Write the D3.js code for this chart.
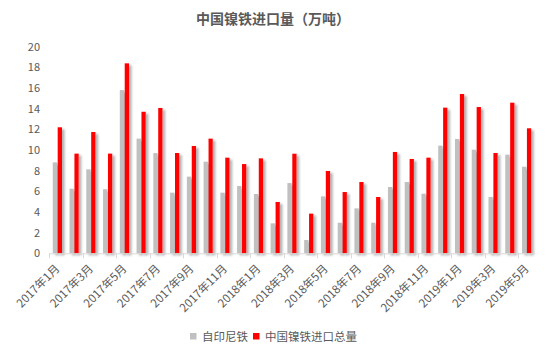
<!DOCTYPE html>
<html><head><meta charset="utf-8">
<script src="https://cdn.jsdelivr.net/npm/d3@7"></script>
<style>body{margin:0;background:#fff;} text{font-family:"Noto Sans CJK SC","Microsoft YaHei",sans-serif;}</style>
</head><body>
<svg id="chart" width="550" height="356"></svg>
<script>
const categories = ["2017年1月","2017年2月","2017年3月","2017年4月","2017年5月","2017年6月","2017年7月","2017年8月","2017年9月","2017年10月","2017年11月","2017年12月",
"2018年1月","2018年2月","2018年3月","2018年4月","2018年5月","2018年6月","2018年7月","2018年8月","2018年9月","2018年10月","2018年11月","2018年12月",
"2019年1月","2019年2月","2019年3月","2019年4月","2019年5月"];
const indonesia = [8.8,6.25,8.13,6.2,15.8,11.1,9.7,5.87,7.42,8.87,5.87,6.52,5.74,2.9,6.8,1.29,5.51,2.96,4.35,2.96,6.42,6.9,5.77,10.42,11.07,10.03,5.45,9.55,8.38];
const totalImport = [12.2,9.65,11.74,9.65,18.39,13.7,14.07,9.71,10.39,11.1,9.26,8.64,9.19,4.97,9.64,3.84,7.97,5.93,6.9,5.45,9.81,9.13,9.26,14.1,15.42,14.16,9.71,14.58,12.1];
const seriesNames = ["自印尼铁","中国镍铁进口总量"];
const seriesColors = ["#c0c0c0","#ff0000"];
const yTicks = [0,2,4,6,8,10,12,14,16,18,20];

(function(){
const svg = d3.select("#chart");
const defs = svg.append("defs");
const f = defs.append("filter").attr("id","sh").attr("x","-50%").attr("y","-10%").attr("width","250%").attr("height","130%");
f.append("feDropShadow").attr("dx",2.5).attr("dy",2).attr("stdDeviation",1.3).attr("flood-color","#7a7a7a").attr("flood-opacity",0.6);

const mLeft = 49, mRight = 535, mTop = 46.7, mBottom = 253.3;
const x = d3.scaleBand().domain(categories).range([mLeft,mRight]).paddingInner(0).paddingOuter(0);
const y = d3.scaleLinear().domain([0,20]).range([mBottom,mTop]);
const barW = 4.3;

svg.append("text").attr("x",273).attr("y",24).attr("text-anchor","middle")
  .attr("font-size",14).attr("font-weight","bold").attr("fill","#595959").text("中国镍铁进口量（万吨）");

svg.append("g").selectAll("text").data(yTicks).join("text")
  .attr("x",40).attr("y",d=>y(d)+4).attr("text-anchor","end")
  .attr("font-size",11).attr("fill","#595959").text(d=>d);

const data = categories.map((c,i)=>({c, v:[indonesia[i], totalImport[i]]}));
const g = svg.append("g");
[0,1].forEach(s=>{
  g.selectAll(null).data(data).join("rect")
    .attr("x",d=>x(d.c)+x.bandwidth()/2 + (s===0 ? -barW-0.3 : 0.3))
    .attr("y",d=>y(d.v[s]))
    .attr("width",barW)
    .attr("height",d=>mBottom-y(d.v[s]))
    .attr("fill",seriesColors[s])
    .attr("filter","url(#sh)");
});

const ax = svg.append("g");
ax.append("line").attr("x1",mLeft).attr("x2",mRight).attr("y1",mBottom+0.5).attr("y2",mBottom+0.5).attr("stroke","#d9d9d9");
const tickCats = categories.filter((d,i)=>i%2===0);
ax.selectAll("line.t").data(tickCats).join("line").attr("class","t")
  .attr("x1",d=>Math.round(x(d))+0.5).attr("x2",d=>Math.round(x(d))+0.5)
  .attr("y1",mBottom).attr("y2",mBottom+5).attr("stroke","#d9d9d9");
ax.selectAll("text").data(tickCats).join("text")
  .attr("transform",d=>`translate(${x(d)+x.bandwidth()/2+3},${mBottom+16}) rotate(-45)`)
  .attr("text-anchor","end").attr("font-size",11.5).attr("fill","#595959").text(d=>d);

const lg = svg.append("g");
const legendItems = [{n:seriesNames[0],c:seriesColors[0],x:190},{n:seriesNames[1],c:seriesColors[1],x:253}];
legendItems.forEach(it=>{
  lg.append("rect").attr("x",it.x).attr("y",333).attr("width",6.5).attr("height",6.5).attr("fill",it.c);
  lg.append("text").attr("x",it.x+12).attr("y",340.5).attr("font-size",11.5).attr("fill","#595959").text(it.n);
});
})();
</script>
</body></html>
